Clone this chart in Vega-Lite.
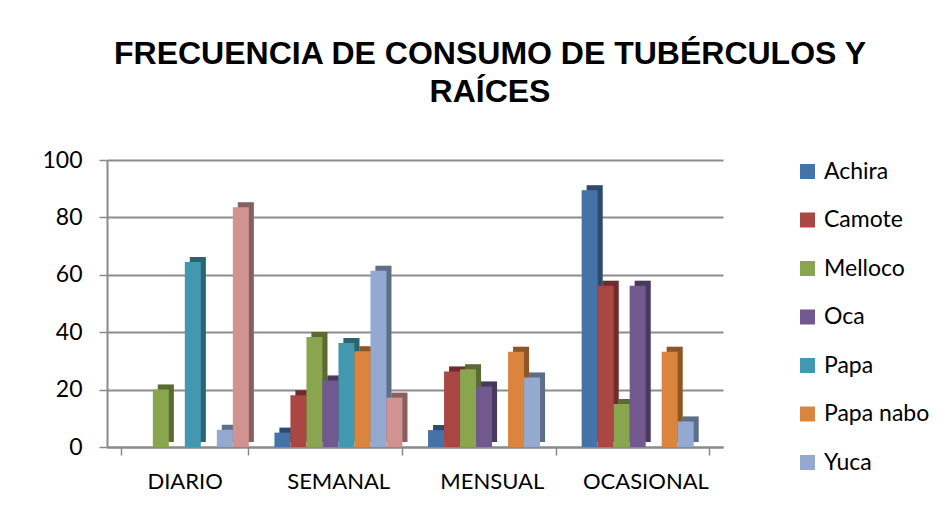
{
  "$schema": "https://vega.github.io/schema/vega-lite/v6.json",
  "autosize": "none",
  "width": 616,
  "height": 287,
  "padding": {"left": 107, "top": 160, "right": 229, "bottom": 66},
  "background": "white",
  "title": {
    "text": ["FRECUENCIA DE CONSUMO DE TUBÉRCULOS Y", "RAÍCES"],
    "font": "Liberation Sans",
    "fontSize": 32,
    "fontWeight": "bold",
    "color": "#000000",
    "anchor": "middle",
    "frame": "group",
    "dx": 75,
    "offset": 40,
    "lineHeight": 38
  },
  "data": {
    "values": [
      {"frecuencia": "DIARIO", "tuberculo": "Achira", "valor": 0},
      {"frecuencia": "DIARIO", "tuberculo": "Camote", "valor": 0},
      {"frecuencia": "DIARIO", "tuberculo": "Melloco", "valor": 20},
      {"frecuencia": "DIARIO", "tuberculo": "Oca", "valor": 0},
      {"frecuencia": "DIARIO", "tuberculo": "Papa", "valor": 64.5},
      {"frecuencia": "DIARIO", "tuberculo": "Papa nabo", "valor": 0},
      {"frecuencia": "DIARIO", "tuberculo": "Yuca", "valor": 6},
      {"frecuencia": "DIARIO", "tuberculo": "Zanahoria blanca", "valor": 83.5},
      {"frecuencia": "SEMANAL", "tuberculo": "Achira", "valor": 5},
      {"frecuencia": "SEMANAL", "tuberculo": "Camote", "valor": 18},
      {"frecuencia": "SEMANAL", "tuberculo": "Melloco", "valor": 38.3},
      {"frecuencia": "SEMANAL", "tuberculo": "Oca", "valor": 23.2},
      {"frecuencia": "SEMANAL", "tuberculo": "Papa", "valor": 36.2},
      {"frecuencia": "SEMANAL", "tuberculo": "Papa nabo", "valor": 33.4},
      {"frecuencia": "SEMANAL", "tuberculo": "Yuca", "valor": 61.4},
      {"frecuencia": "SEMANAL", "tuberculo": "Zanahoria blanca", "valor": 17.2},
      {"frecuencia": "MENSUAL", "tuberculo": "Achira", "valor": 5.9},
      {"frecuencia": "MENSUAL", "tuberculo": "Camote", "valor": 26.3},
      {"frecuencia": "MENSUAL", "tuberculo": "Melloco", "valor": 27.1},
      {"frecuencia": "MENSUAL", "tuberculo": "Oca", "valor": 21.1},
      {"frecuencia": "MENSUAL", "tuberculo": "Papa", "valor": 0},
      {"frecuencia": "MENSUAL", "tuberculo": "Papa nabo", "valor": 33.2},
      {"frecuencia": "MENSUAL", "tuberculo": "Yuca", "valor": 24.2},
      {"frecuencia": "MENSUAL", "tuberculo": "Zanahoria blanca", "valor": 0},
      {"frecuencia": "OCASIONAL", "tuberculo": "Achira", "valor": 89.5},
      {"frecuencia": "OCASIONAL", "tuberculo": "Camote", "valor": 56.2},
      {"frecuencia": "OCASIONAL", "tuberculo": "Melloco", "valor": 15},
      {"frecuencia": "OCASIONAL", "tuberculo": "Oca", "valor": 56.2},
      {"frecuencia": "OCASIONAL", "tuberculo": "Papa", "valor": 0},
      {"frecuencia": "OCASIONAL", "tuberculo": "Papa nabo", "valor": 33.2},
      {"frecuencia": "OCASIONAL", "tuberculo": "Yuca", "valor": 8.9},
      {"frecuencia": "OCASIONAL", "tuberculo": "Zanahoria blanca", "valor": 0}
    ]
  },
  "encoding": {
    "x": {
      "field": "frecuencia",
      "type": "nominal",
      "sort": ["DIARIO", "SEMANAL", "MENSUAL", "OCASIONAL"],
      "scale": {"paddingInner": 0.17, "paddingOuter": 0.09},
      "axis": {
        "title": null,
        "labelAngle": 0,
        "labelFont": "Lato",
        "labelFontSize": 22,
        "labelColor": "#000000",
        "labelPadding": 16,
        "domainColor": "#898989",
        "domainWidth": 2,
        "tickColor": "#898989",
        "tickWidth": 1.5,
        "tickSize": 8,
        "tickBand": "extent",
        "grid": false
      }
    },
    "y": {
      "field": "valor",
      "type": "quantitative",
      "scale": {"domain": [0, 100], "nice": false},
      "axis": {
        "title": null,
        "values": [0, 20, 40, 60, 80, 100],
        "labelFont": "Lato",
        "labelFontSize": 23,
        "labelColor": "#000000",
        "labelPadding": 17,
        "domainColor": "#898989",
        "domainWidth": 2,
        "tickColor": "#898989",
        "tickWidth": 1.5,
        "tickSize": 8,
        "gridColor": "#8c8c8c",
        "gridWidth": 2
      }
    },
    "color": {
      "field": "tuberculo",
      "type": "nominal",
      "scale": {
        "domain": ["Achira", "Camote", "Melloco", "Oca", "Papa", "Papa nabo", "Yuca", "Zanahoria blanca"],
        "range": ["#4572A7", "#AA4643", "#89A54E", "#71588F", "#4198AF", "#DB843D", "#93A9CF", "#D19392"]
      },
      "legend": {
        "title": null,
        "values": ["Achira", "Camote", "Melloco", "Oca", "Papa", "Papa nabo", "Yuca"],
        "orient": "none",
        "legendX": 689,
        "legendY": 0,
        "symbolType": "square",
        "symbolSize": 225,
        "symbolStrokeWidth": 0,
        "symbolOpacity": 1,
        "labelFont": "Lato",
        "labelFontSize": 23,
        "labelColor": "#000000",
        "labelOffset": 5,
        "rowPadding": 24.5
      }
    }
  },
  "layer": [
    {
      "mark": {"type": "bar", "yOffset": -5, "y2Offset": -5},
      "encoding": {
        "xOffset": {
          "field": "tuberculo",
          "type": "nominal",
          "sort": ["Achira", "Camote", "Melloco", "Oca", "Papa", "Papa nabo", "Yuca", "Zanahoria blanca"],
          "scale": {"range": [5, 133], "paddingInner": 0, "paddingOuter": 0}
        }
      }
    },
    {
      "mark": {"type": "bar", "yOffset": -5, "y2Offset": -5, "fill": "#000000", "opacity": 0.35},
      "encoding": {
        "xOffset": {
          "field": "tuberculo",
          "type": "nominal",
          "sort": ["Achira", "Camote", "Melloco", "Oca", "Papa", "Papa nabo", "Yuca", "Zanahoria blanca"],
          "scale": {"range": [5, 133], "paddingInner": 0, "paddingOuter": 0}
        }
      }
    },
    {
      "mark": {"type": "bar"},
      "encoding": {
        "xOffset": {
          "field": "tuberculo",
          "type": "nominal",
          "sort": ["Achira", "Camote", "Melloco", "Oca", "Papa", "Papa nabo", "Yuca", "Zanahoria blanca"],
          "scale": {"range": [0, 128], "paddingInner": 0, "paddingOuter": 0}
        }
      }
    }
  ],
  "resolve": {"scale": {"xOffset": "independent"}},
  "config": {
    "view": {"stroke": null}
  }
}
